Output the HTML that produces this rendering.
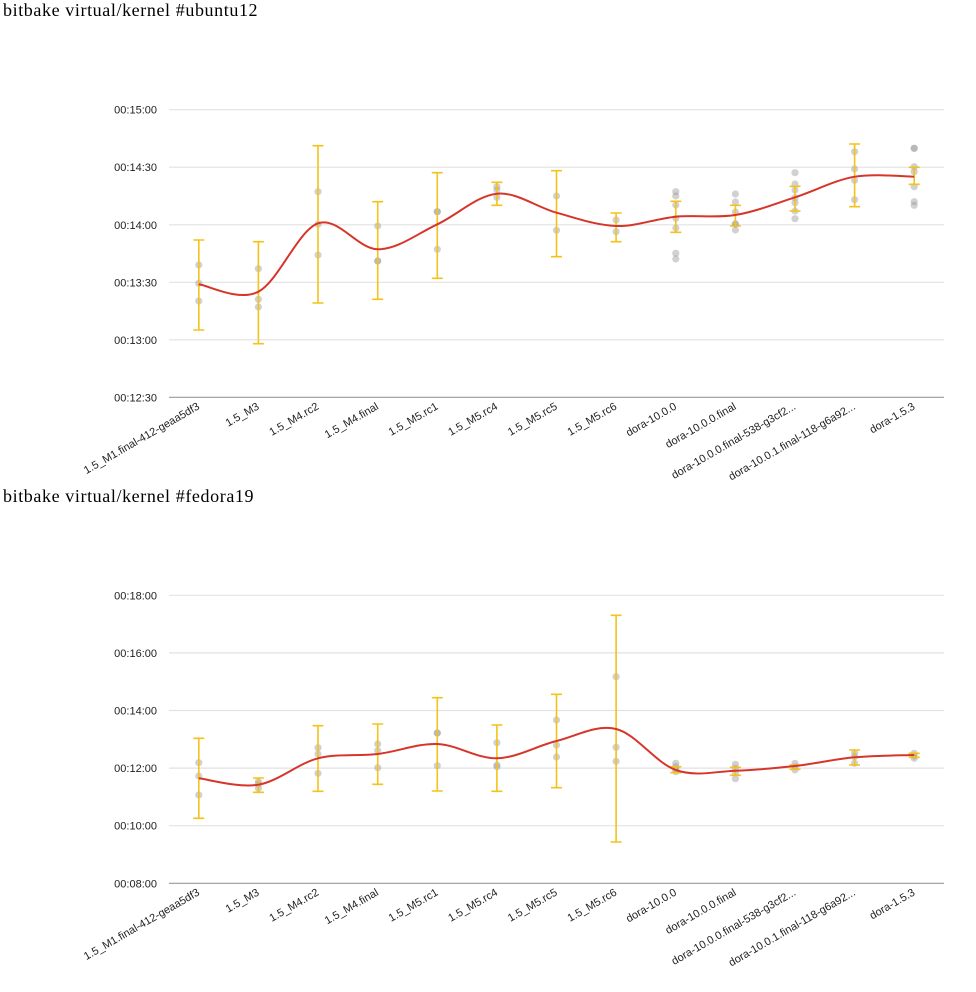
<!DOCTYPE html>
<html>
<head>
<meta charset="utf-8">
<style>
  html, body { margin: 0; padding: 0; background: #fff; }
  svg { display: block; }
  .title { font-family: "Liberation Serif", serif; font-size: 18px; fill: #000; letter-spacing: 0.6px; }
  .yl { font-family: "Liberation Sans", Arial, sans-serif; font-size: 11px; fill: #222; text-anchor: end; }
  .xl { font-family: "Liberation Sans", Arial, sans-serif; font-size: 11px; fill: #222; text-anchor: end; }
  .grid { stroke: #e2e2e2; stroke-width: 1.2; }
  .base { stroke: #9a9a9a; stroke-width: 1.2; }
  .pt { fill: #999; fill-opacity: 0.45; }
  .eb { stroke: #f4c21b; stroke-width: 1.6; fill: none; }
  .ln { stroke: #d8352a; stroke-width: 2; fill: none; }
</style>
</head>
<body>
<svg width="976" height="992" viewBox="0 0 976 992" xmlns="http://www.w3.org/2000/svg">
  <!-- ===== Chart 1 ===== -->
  <text class="title" x="3" y="16">bitbake virtual/kernel #ubuntu12</text>

  <g>
    <line class="grid" x1="169" y1="109.7" x2="944" y2="109.7"/>
    <line class="grid" x1="169" y1="167.2" x2="944" y2="167.2"/>
    <line class="grid" x1="169" y1="224.8" x2="944" y2="224.8"/>
    <line class="grid" x1="169" y1="282.3" x2="944" y2="282.3"/>
    <line class="grid" x1="169" y1="339.8" x2="944" y2="339.8"/>
    <line class="base" x1="169" y1="397.3" x2="944" y2="397.3"/>
  </g>
  <g>
    <text class="yl" x="157" y="113.7">00:15:00</text>
    <text class="yl" x="157" y="171.2">00:14:30</text>
    <text class="yl" x="157" y="228.8">00:14:00</text>
    <text class="yl" x="157" y="286.3">00:13:30</text>
    <text class="yl" x="157" y="343.8">00:13:00</text>
    <text class="yl" x="157" y="401.3">00:12:30</text>
  </g>

  <!-- points chart 1 -->
  <g class="pt">
    <circle cx="198.8" cy="265" r="3.6"/><circle cx="198.8" cy="283.3" r="3.6"/><circle cx="198.8" cy="301" r="3.6"/>
    <circle cx="258.4" cy="268.7" r="3.6"/><circle cx="258.4" cy="299.3" r="3.6"/><circle cx="258.4" cy="307" r="3.6"/>
    <circle cx="318.0" cy="191.7" r="3.6"/><circle cx="318.0" cy="224.3" r="3.6"/><circle cx="318.0" cy="255" r="3.6"/>
    <circle cx="377.7" cy="226" r="3.6"/><circle cx="377.7" cy="261" r="3.6"/><circle cx="377.7" cy="261" r="3.6"/>
    <circle cx="437.3" cy="211.7" r="3.6"/><circle cx="437.3" cy="211.7" r="3.6"/><circle cx="437.3" cy="249.3" r="3.6"/>
    <circle cx="496.9" cy="186.7" r="3.6"/><circle cx="496.9" cy="190" r="3.6"/><circle cx="496.9" cy="197.3" r="3.6"/>
    <circle cx="556.5" cy="196" r="3.6"/><circle cx="556.5" cy="230.3" r="3.6"/>
    <circle cx="616.1" cy="220" r="3.6"/><circle cx="616.1" cy="231.7" r="3.6"/>
    <circle cx="675.8" cy="191.7" r="3.6"/><circle cx="675.8" cy="196" r="3.6"/><circle cx="675.8" cy="205" r="3.6"/><circle cx="675.8" cy="218.3" r="3.6"/><circle cx="675.8" cy="228" r="3.6"/><circle cx="675.8" cy="253.3" r="3.6"/><circle cx="675.8" cy="259" r="3.6"/>
    <circle cx="735.4" cy="194" r="3.6"/><circle cx="735.4" cy="202" r="3.6"/><circle cx="735.4" cy="212" r="3.6"/><circle cx="735.4" cy="224" r="3.6"/><circle cx="735.4" cy="224" r="3.6"/><circle cx="735.4" cy="230" r="3.6"/>
    <circle cx="795.0" cy="172.7" r="3.6"/><circle cx="795.0" cy="184" r="3.6"/><circle cx="795.0" cy="190" r="3.6"/><circle cx="795.0" cy="197.7" r="3.6"/><circle cx="795.0" cy="202.7" r="3.6"/><circle cx="795.0" cy="211" r="3.6"/><circle cx="795.0" cy="218.7" r="3.6"/>
    <circle cx="854.6" cy="151.7" r="3.6"/><circle cx="854.6" cy="169" r="3.6"/><circle cx="854.6" cy="180.3" r="3.6"/><circle cx="854.6" cy="199.7" r="3.6"/>
    <circle cx="914.2" cy="148.3" r="3.6"/><circle cx="914.2" cy="148.3" r="3.6"/><circle cx="914.2" cy="166.7" r="3.6"/><circle cx="914.2" cy="171.7" r="3.6"/><circle cx="914.2" cy="186.7" r="3.6"/><circle cx="914.2" cy="201.7" r="3.6"/><circle cx="914.2" cy="205.3" r="3.6"/>
  </g>

  <!-- error bars chart 1 -->
  <path class="eb" d="
    M198.8,240V330 M193.3,240H204.3 M193.3,330H204.3
    M258.4,241.7V343.7 M252.9,241.7H263.9 M252.9,343.7H263.9
    M318.0,145.7V303 M312.5,145.7H323.5 M312.5,303H323.5
    M377.7,201.7V299.3 M372.2,201.7H383.2 M372.2,299.3H383.2
    M437.3,172.7V278.3 M431.8,172.7H442.8 M431.8,278.3H442.8
    M496.9,182.3V205.3 M491.4,182.3H502.4 M491.4,205.3H502.4
    M556.5,170.7V256.7 M551,170.7H562 M551,256.7H562
    M616.1,213V241.7 M610.6,213H621.6 M610.6,241.7H621.6
    M675.8,201.3V232.3 M670.3,201.3H681.3 M670.3,232.3H681.3
    M735.4,205.3V226 M729.9,205.3H740.9 M729.9,226H740.9
    M795.0,186.3V211 M789.5,186.3H800.5 M789.5,211H800.5
    M854.6,144V206.7 M849.1,144H860.1 M849.1,206.7H860.1
    M914.2,167.3V184.3 M908.7,167.3H919.7 M908.7,184.3H919.7"/>

  <!-- line chart 1 -->
  <path class="ln" d="M198.8,284.3
    C208.7,285.5 238.5,301.9 258.4,291.7
    C278.3,281.5 298.1,230.4 318.0,223.3
    C337.9,216.2 357.8,249.1 377.7,249.3
    C397.6,249.5 417.4,233.6 437.3,224.3
    C457.2,215.0 477.0,195.6 496.9,193.7
    C516.8,191.8 536.6,207.3 556.5,212.7
    C576.4,218.1 596.2,225.3 616.1,226
    C636.0,226.7 655.9,218.5 675.8,216.7
    C695.7,214.9 715.5,218.2 735.4,215
    C755.3,211.8 775.1,203.7 795.0,197.3
    C814.9,190.9 834.7,180.1 854.6,176.7
    C874.5,173.3 904.3,176.7 914.2,176.7"/>

  <!-- x labels chart 1 -->
  <g>
    <text class="xl" transform="translate(200.3,408.5) rotate(-30)">1.5_M1.final-412-geaa5df3</text>
    <text class="xl" transform="translate(259.9,408.5) rotate(-30)">1.5_M3</text>
    <text class="xl" transform="translate(319.5,408.5) rotate(-30)">1.5_M4.rc2</text>
    <text class="xl" transform="translate(379.2,408.5) rotate(-30)">1.5_M4.final</text>
    <text class="xl" transform="translate(438.8,408.5) rotate(-30)">1.5_M5.rc1</text>
    <text class="xl" transform="translate(498.4,408.5) rotate(-30)">1.5_M5.rc4</text>
    <text class="xl" transform="translate(558.0,408.5) rotate(-30)">1.5_M5.rc5</text>
    <text class="xl" transform="translate(617.6,408.5) rotate(-30)">1.5_M5.rc6</text>
    <text class="xl" transform="translate(677.3,408.5) rotate(-30)">dora-10.0.0</text>
    <text class="xl" transform="translate(736.9,408.5) rotate(-30)">dora-10.0.0.final</text>
    <text class="xl" transform="translate(796.5,408.5) rotate(-30)">dora-10.0.0.final-538-g3cf2...</text>
    <text class="xl" transform="translate(856.1,408.5) rotate(-30)">dora-10.0.1.final-118-g6a92...</text>
    <text class="xl" transform="translate(915.7,408.5) rotate(-30)">dora-1.5.3</text>
  </g>

  <!-- ===== Chart 2 ===== -->
  <text class="title" x="3" y="502">bitbake virtual/kernel #fedora19</text>

  <g>
    <line class="grid" x1="169" y1="595.3" x2="944" y2="595.3"/>
    <line class="grid" x1="169" y1="652.9" x2="944" y2="652.9"/>
    <line class="grid" x1="169" y1="710.5" x2="944" y2="710.5"/>
    <line class="grid" x1="169" y1="768.1" x2="944" y2="768.1"/>
    <line class="grid" x1="169" y1="825.7" x2="944" y2="825.7"/>
    <line class="base" x1="169" y1="883.3" x2="944" y2="883.3"/>
  </g>
  <g>
    <text class="yl" x="157" y="599.3">00:18:00</text>
    <text class="yl" x="157" y="656.9">00:16:00</text>
    <text class="yl" x="157" y="714.5">00:14:00</text>
    <text class="yl" x="157" y="772.1">00:12:00</text>
    <text class="yl" x="157" y="829.7">00:10:00</text>
    <text class="yl" x="157" y="887.3">00:08:00</text>
  </g>

  <!-- points chart 2 -->
  <g class="pt">
    <circle cx="198.8" cy="762.7" r="3.6"/><circle cx="198.8" cy="776" r="3.6"/><circle cx="198.8" cy="795" r="3.6"/>
    <circle cx="258.4" cy="781.7" r="3.6"/><circle cx="258.4" cy="784" r="3.6"/><circle cx="258.4" cy="788.3" r="3.6"/>
    <circle cx="318.0" cy="747.7" r="3.6"/><circle cx="318.0" cy="754" r="3.6"/><circle cx="318.0" cy="773.3" r="3.6"/>
    <circle cx="377.7" cy="744" r="3.6"/><circle cx="377.7" cy="750.7" r="3.6"/><circle cx="377.7" cy="767.7" r="3.6"/>
    <circle cx="437.3" cy="733" r="3.6"/><circle cx="437.3" cy="733" r="3.6"/><circle cx="437.3" cy="765.7" r="3.6"/>
    <circle cx="496.9" cy="742.7" r="3.6"/><circle cx="496.9" cy="765" r="3.6"/><circle cx="496.9" cy="766.7" r="3.6"/>
    <circle cx="556.5" cy="720" r="3.6"/><circle cx="556.5" cy="745" r="3.6"/><circle cx="556.5" cy="757" r="3.6"/>
    <circle cx="616.1" cy="676.7" r="3.6"/><circle cx="616.1" cy="747.3" r="3.6"/><circle cx="616.1" cy="761.3" r="3.6"/>
    <circle cx="675.8" cy="763.3" r="3.6"/><circle cx="675.8" cy="766.7" r="3.6"/><circle cx="675.8" cy="769.3" r="3.6"/><circle cx="675.8" cy="771.7" r="3.6"/>
    <circle cx="735.4" cy="764.3" r="3.6"/><circle cx="735.4" cy="768.3" r="3.6"/><circle cx="735.4" cy="772.7" r="3.6"/><circle cx="735.4" cy="778.7" r="3.6"/>
    <circle cx="795.0" cy="763.3" r="3.6"/><circle cx="795.0" cy="766.7" r="3.6"/><circle cx="795.0" cy="770" r="3.6"/>
    <circle cx="854.6" cy="752.7" r="3.6"/><circle cx="854.6" cy="756.7" r="3.6"/><circle cx="854.6" cy="763.3" r="3.6"/>
    <circle cx="914.2" cy="753.3" r="3.6"/><circle cx="914.2" cy="756" r="3.6"/><circle cx="914.2" cy="758.3" r="3.6"/>
  </g>

  <!-- error bars chart 2 -->
  <path class="eb" d="
    M198.8,738.3V818.3 M193.3,738.3H204.3 M193.3,818.3H204.3
    M258.4,778V792.3 M252.9,778H263.9 M252.9,792.3H263.9
    M318.0,725.7V791.3 M312.5,725.7H323.5 M312.5,791.3H323.5
    M377.7,724V784.3 M372.2,724H383.2 M372.2,784.3H383.2
    M437.3,697.7V791 M431.8,697.7H442.8 M431.8,791H442.8
    M496.9,725V791.3 M491.4,725H502.4 M491.4,791.3H502.4
    M556.5,694.3V787.7 M551,694.3H562 M551,787.7H562
    M616.1,615.3V842 M610.6,615.3H621.6 M610.6,842H621.6
    M675.8,766.7V772.7 M670.3,766.7H681.3 M670.3,772.7H681.3
    M735.4,767.3V775.3 M729.9,767.3H740.9 M729.9,775.3H740.9
    M795.0,765V769.3 M789.5,765H800.5 M789.5,769.3H800.5
    M854.6,750V765 M849.1,750H860.1 M849.1,765H860.1
    M914.2,753.3V757.3 M908.7,753.3H919.7 M908.7,757.3H919.7"/>

  <!-- line chart 2 -->
  <path class="ln" d="M198.8,778.3
    C208.7,779.4 238.5,788.0 258.4,784.7
    C278.3,781.4 298.1,763.4 318.0,758.3
    C337.9,753.2 357.8,756.4 377.7,754
    C397.6,751.6 417.4,743.3 437.3,744
    C457.2,744.7 477.0,758.8 496.9,758.3
    C516.8,757.8 536.6,745.9 556.5,741
    C576.4,736.1 596.2,724.2 616.1,729
    C636.0,733.8 655.9,763.1 675.8,770
    C695.7,777.0 715.5,771.4 735.4,770.7
    C755.3,770.0 775.1,768.2 795.0,766
    C814.9,763.8 834.7,759.1 854.6,757.3
    C874.5,755.5 904.3,755.4 914.2,755"/>

  <!-- x labels chart 2 -->
  <g>
    <text class="xl" transform="translate(200.3,894.5) rotate(-30)">1.5_M1.final-412-geaa5df3</text>
    <text class="xl" transform="translate(259.9,894.5) rotate(-30)">1.5_M3</text>
    <text class="xl" transform="translate(319.5,894.5) rotate(-30)">1.5_M4.rc2</text>
    <text class="xl" transform="translate(379.2,894.5) rotate(-30)">1.5_M4.final</text>
    <text class="xl" transform="translate(438.8,894.5) rotate(-30)">1.5_M5.rc1</text>
    <text class="xl" transform="translate(498.4,894.5) rotate(-30)">1.5_M5.rc4</text>
    <text class="xl" transform="translate(558.0,894.5) rotate(-30)">1.5_M5.rc5</text>
    <text class="xl" transform="translate(617.6,894.5) rotate(-30)">1.5_M5.rc6</text>
    <text class="xl" transform="translate(677.3,894.5) rotate(-30)">dora-10.0.0</text>
    <text class="xl" transform="translate(736.9,894.5) rotate(-30)">dora-10.0.0.final</text>
    <text class="xl" transform="translate(796.5,894.5) rotate(-30)">dora-10.0.0.final-538-g3cf2...</text>
    <text class="xl" transform="translate(856.1,894.5) rotate(-30)">dora-10.0.1.final-118-g6a92...</text>
    <text class="xl" transform="translate(915.7,894.5) rotate(-30)">dora-1.5.3</text>
  </g>
</svg>
</body>
</html>
